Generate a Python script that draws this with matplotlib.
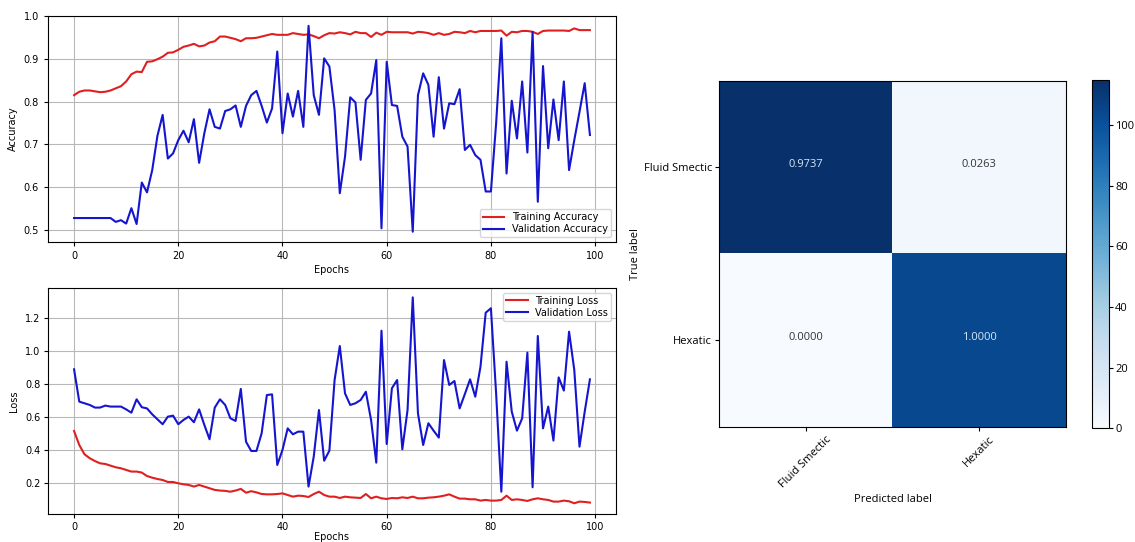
import numpy as np
import matplotlib
matplotlib.use("Agg")
import matplotlib.pyplot as plt

plt.rcParams["font.family"] = "DejaVu Sans"

train_acc = [0.815, 0.823, 0.826, 0.826, 0.824, 0.822, 0.823, 0.826, 0.831, 0.836,
             0.847, 0.864, 0.870, 0.869, 0.893, 0.894, 0.899, 0.905, 0.914, 0.915,
             0.921, 0.928, 0.931, 0.935, 0.929, 0.931, 0.938, 0.941, 0.952, 0.952,
             0.949, 0.946, 0.941, 0.948, 0.948, 0.949, 0.952, 0.955, 0.958, 0.956,
             0.956, 0.956, 0.960, 0.958, 0.956, 0.957, 0.953, 0.948, 0.955, 0.960,
             0.959, 0.962, 0.960, 0.957, 0.963, 0.960, 0.960, 0.951, 0.961, 0.956,
             0.963, 0.962, 0.962, 0.962, 0.962, 0.959, 0.963, 0.962, 0.960, 0.956,
             0.960, 0.956, 0.958, 0.963, 0.962, 0.960, 0.965, 0.962, 0.965, 0.965,
             0.965, 0.965, 0.966, 0.954, 0.963, 0.962, 0.965, 0.965, 0.963, 0.958,
             0.965, 0.966, 0.966, 0.966, 0.966, 0.965, 0.971, 0.967, 0.967, 0.967]

val_acc = [0.528, 0.528, 0.528, 0.528, 0.528, 0.528, 0.528, 0.528, 0.519, 0.523,
           0.515, 0.551, 0.514, 0.611, 0.588, 0.640, 0.720, 0.769, 0.667, 0.679,
           0.710, 0.732, 0.705, 0.759, 0.657, 0.726, 0.782, 0.741, 0.737, 0.778,
           0.782, 0.791, 0.741, 0.790, 0.815, 0.825, 0.790, 0.751, 0.784, 0.917,
           0.726, 0.819, 0.765, 0.825, 0.741, 0.977, 0.815, 0.769, 0.901, 0.882,
           0.780, 0.586, 0.671, 0.810, 0.798, 0.664, 0.804, 0.819, 0.897, 0.504,
           0.893, 0.792, 0.790, 0.718, 0.695, 0.496, 0.815, 0.866, 0.839, 0.718,
           0.857, 0.737, 0.796, 0.794, 0.829, 0.687, 0.699, 0.675, 0.664, 0.590,
           0.590, 0.749, 0.948, 0.632, 0.802, 0.714, 0.847, 0.681, 0.963, 0.566,
           0.883, 0.691, 0.805, 0.710, 0.847, 0.640, 0.710, 0.776, 0.843, 0.722]

train_loss = [0.513, 0.428, 0.372, 0.348, 0.331, 0.317, 0.313, 0.303, 0.293, 0.287,
              0.277, 0.267, 0.267, 0.261, 0.240, 0.230, 0.222, 0.216, 0.204, 0.204,
              0.196, 0.190, 0.186, 0.176, 0.186, 0.176, 0.166, 0.156, 0.152, 0.150,
              0.145, 0.152, 0.162, 0.139, 0.148, 0.141, 0.131, 0.129, 0.129, 0.131,
              0.135, 0.125, 0.115, 0.121, 0.119, 0.113, 0.131, 0.145, 0.125, 0.115,
              0.115, 0.107, 0.115, 0.111, 0.109, 0.107, 0.131, 0.105, 0.115, 0.105,
              0.101, 0.107, 0.105, 0.111, 0.107, 0.115, 0.105, 0.105, 0.109, 0.111,
              0.115, 0.121, 0.129, 0.115, 0.103, 0.103, 0.099, 0.099, 0.091, 0.095,
              0.091, 0.091, 0.095, 0.121, 0.095, 0.099, 0.095, 0.089, 0.099, 0.105,
              0.099, 0.095, 0.085, 0.085, 0.091, 0.087, 0.075, 0.085, 0.083, 0.079]

val_loss = [0.887, 0.691, 0.681, 0.671, 0.655, 0.655, 0.667, 0.661, 0.661, 0.661,
            0.644, 0.624, 0.705, 0.657, 0.650, 0.614, 0.584, 0.554, 0.600, 0.606,
            0.554, 0.580, 0.600, 0.566, 0.644, 0.550, 0.463, 0.655, 0.705, 0.671,
            0.590, 0.574, 0.768, 0.448, 0.392, 0.392, 0.499, 0.731, 0.735, 0.307,
            0.398, 0.529, 0.493, 0.509, 0.509, 0.176, 0.358, 0.640, 0.333, 0.394,
            0.822, 1.028, 0.741, 0.671, 0.681, 0.701, 0.751, 0.580, 0.321, 1.121,
            0.434, 0.772, 0.822, 0.402, 0.640, 1.323, 0.620, 0.428, 0.560, 0.515,
            0.473, 0.943, 0.792, 0.816, 0.650, 0.737, 0.826, 0.721, 0.903, 1.230,
            1.257, 0.741, 0.145, 0.933, 0.630, 0.515, 0.590, 0.988, 0.172, 1.089,
            0.529, 0.661, 0.455, 0.838, 0.758, 1.115, 0.883, 0.418, 0.630, 0.826]

classes = ["Fluid Smectic", "Hexatic"]
cm_counts = np.array([[115, 3], [0, 104]])
cm_norm = np.array([[0.9737, 0.0263], [0.0000, 1.0000]])

epochs = np.arange(len(train_acc))
fs = 7

fig = plt.figure(figsize=(11.35, 5.42), dpi=100)

# accuracy
ax1 = fig.add_axes([0.0423, 0.5535, 0.5004, 0.417])
ax1.plot(epochs, train_acc, color="#e02020", lw=1.5, label="Training Accuracy")
ax1.plot(epochs, val_acc, color="#1515d0", lw=1.5, label="Validation Accuracy")
ax1.set_ylim(0.472, 1.0)
ax1.set_xlim(-5, 104)
ax1.grid(True, color="#b8b8b8", lw=0.8)
ax1.set_ylabel("Accuracy", fontsize=fs)
ax1.set_xlabel("Epochs", fontsize=fs, labelpad=3)
ax1.tick_params(labelsize=fs, length=3)
ax1.legend(loc="lower right", fontsize=fs, handlelength=2.2, borderpad=0.3, labelspacing=0.2)

# loss
ax2 = fig.add_axes([0.0423, 0.0517, 0.5004, 0.417])
ax2.plot(epochs, train_loss, color="#e02020", lw=1.5, label="Training Loss")
ax2.plot(epochs, val_loss, color="#1515d0", lw=1.5, label="Validation Loss")
ax2.set_ylim(0.01, 1.38)
ax2.set_xlim(-5, 104)
ax2.set_yticks([0.2, 0.4, 0.6, 0.8, 1.0, 1.2])
ax2.grid(True, color="#b8b8b8", lw=0.8)
ax2.set_ylabel("Loss", fontsize=fs)
ax2.set_xlabel("Epochs", fontsize=fs, labelpad=0.5)
ax2.tick_params(labelsize=fs, length=3, pad=2.5)
ax2.legend(loc="upper right", fontsize=fs, handlelength=2.2, borderpad=0.3, labelspacing=0.2)

# confusion matrix
cm_font = "Open Sans"
fs2 = 8
ax3 = fig.add_axes([0.6335, 0.2122, 0.3057, 0.6384])
im = ax3.imshow(cm_counts, interpolation="nearest", cmap=plt.cm.Blues,
                vmin=0, vmax=cm_counts.max(), aspect="auto")
ax3.set_xticks(np.arange(len(classes)))
ax3.set_yticks(np.arange(len(classes)))
ax3.set_xticklabels(classes, rotation=45, ha="center", fontsize=fs2, family=cm_font)
ax3.set_yticklabels(classes, fontsize=fs2, family=cm_font)
ax3.tick_params(length=3, pad=2)
thresh = cm_counts.max() / 2.0
for i in range(cm_norm.shape[0]):
    for j in range(cm_norm.shape[1]):
        ax3.text(j, i, f"{cm_norm[i, j]:.4f}", ha="center", va="baseline", fontsize=fs2,
                 family=cm_font,
                 color="#d8e8f8" if cm_counts[i, j] > thresh else "#333333")
ax3.set_ylabel("True label", fontsize=fs2, family=cm_font, labelpad=2)
ax3.set_xlabel("Predicted label", fontsize=fs2, family=cm_font, labelpad=3)

cax = fig.add_axes([0.9621, 0.2103, 0.015, 0.642])
cb = fig.colorbar(im, cax=cax)
cb.set_ticks([0, 20, 40, 60, 80, 100])
cb.ax.tick_params(labelsize=fs2, length=3, pad=1.5)
for t in cb.ax.get_yticklabels():
    t.set_family(cm_font)

fig.savefig("out.png", dpi=100)
